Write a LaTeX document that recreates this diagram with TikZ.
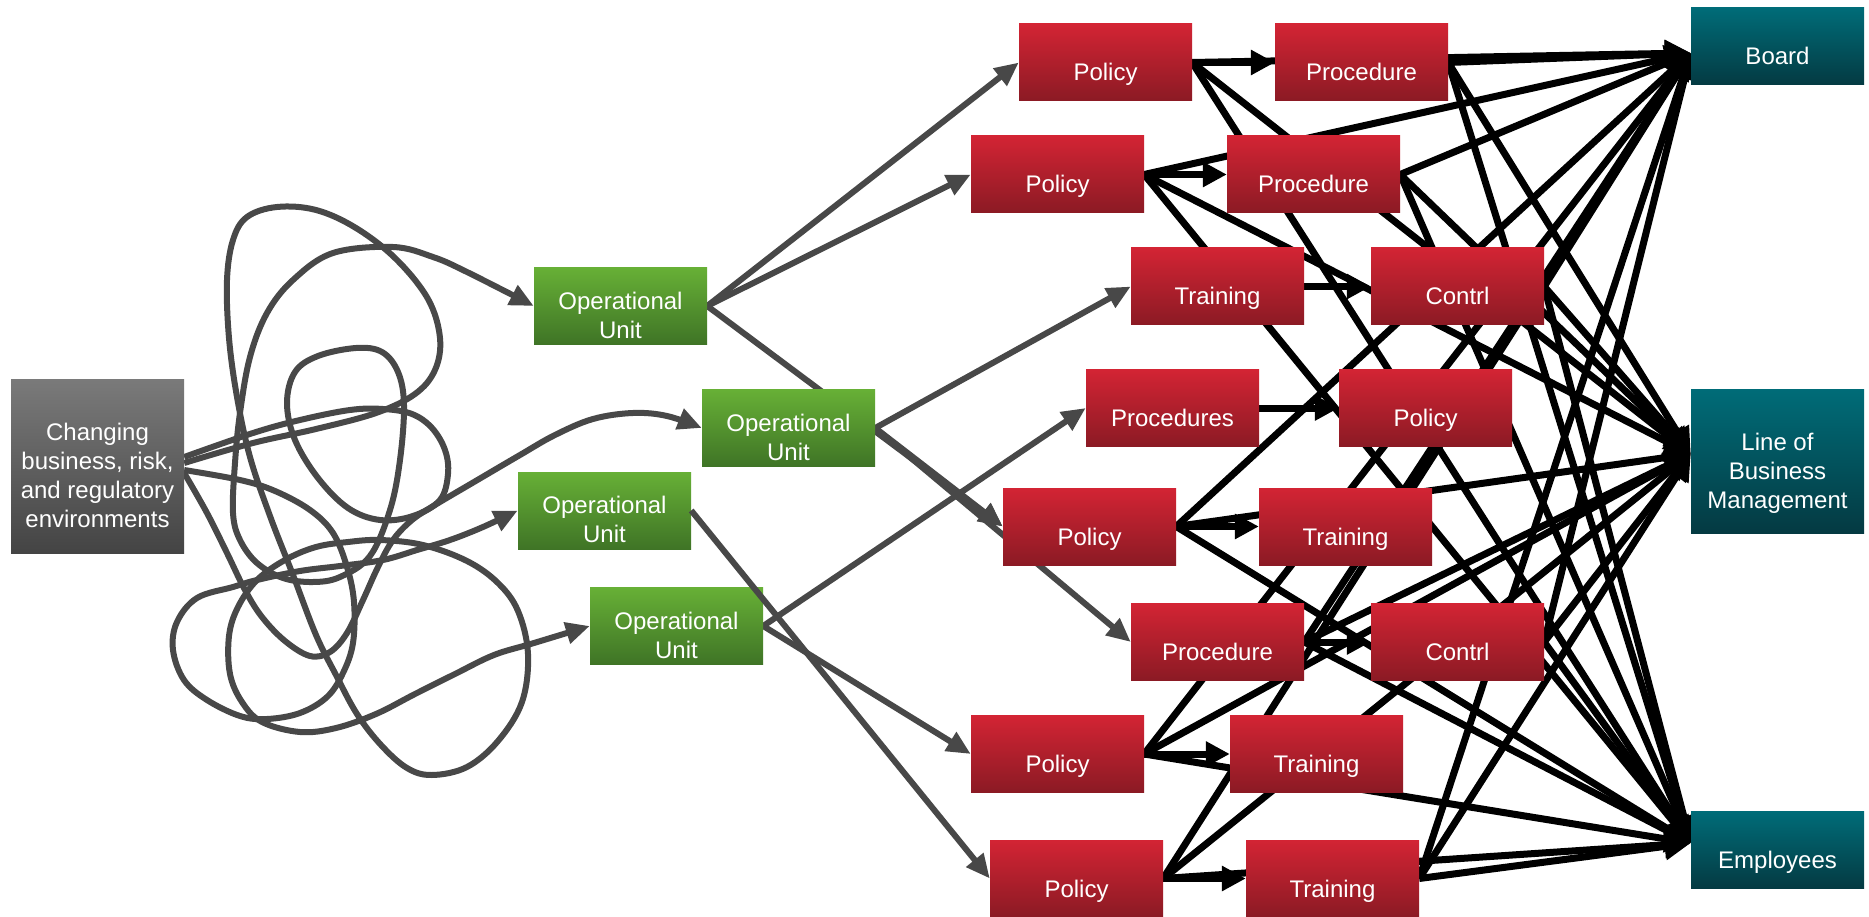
\documentclass[tikz,border=0pt]{standalone}
\usepackage{fontspec}
\setmainfont{Liberation Sans}
\usetikzlibrary{arrows.meta,calc}
\definecolor{redtop}{RGB}{211,36,52}
\definecolor{redbot}{RGB}{139,26,36}
\definecolor{grntop}{RGB}{103,176,54}
\definecolor{grnbot}{RGB}{63,116,38}
\definecolor{tealtop}{RGB}{0,108,120}
\definecolor{tealbot}{RGB}{4,58,66}
\definecolor{gratop}{RGB}{122,122,122}
\definecolor{grabot}{RGB}{68,68,68}
\definecolor{wire}{RGB}{72,72,72}
\pgfdeclarelayer{background}
\pgfsetlayers{background,main}
\begin{document}
\begin{tikzpicture}[x=1pt,y=-1pt,
  box/.style={rectangle,inner sep=0pt,minimum width=173pt,minimum height=77pt},
  redbox/.style={box,top color=redtop,bottom color=redbot},
  grnbox/.style={box,top color=grntop,bottom color=grnbot},
  tealbox/.style={box,top color=tealtop,bottom color=tealbot},
  grybox/.style={box,top color=gratop,bottom color=grabot},
  lbl/.style={text=white,font=\fontsize{24}{29}\selectfont,align=center,inner sep=0pt},
  word/.style={lbl,anchor=base},
  feed/.style={draw=wire,line width=6pt,-{Triangle[length=24pt,width=21pt]}},
  link/.style={draw=black,line width=7pt,-{Triangle[length=24pt,width=24pt]}},
  tie/.style={draw=black,line width=7pt,-{Triangle[length=26pt,width=26pt]}},
]
\useasboundingbox (0,0) rectangle (1869,917);

% source
\node[grybox,minimum height=174pt] (chg) at (97.5,466) {};
\node[lbl] (chg-t) at ([yshift=-9pt]chg.center) {Changing\\business, risk,\\and regulatory\\environments};

% operational units
\node[grnbox] (ou1) at (620.5,306) {};
\node[grnbox] (ou2) at (788.5,428) {};
\node[grnbox] (ou3) at (604.5,510.5) {};
\node[grnbox] (ou4) at (676.5,626) {};
\foreach \u in {ou1,ou2,ou3,ou4}
  \node[lbl] (\u-t) at ([yshift=-9pt]\u.center) {Operational\\Unit};

% policies, procedures, training and controls
\node[redbox] (pol1) at (1105.5,62.5) {};
\node[redbox] (pro1) at (1361.5,62.5) {};
\node[redbox] (pol2) at (1057.5,174.5) {};
\node[redbox] (pro2) at (1313.5,174.5) {};
\node[redbox] (trn1) at (1217.5,286.5) {};
\node[redbox] (ctl1) at (1457.5,286.5) {};
\node[redbox] (pros) at (1172.5,408) {};
\node[redbox] (pol3) at (1425.5,408) {};
\node[redbox] (pol4) at (1089.5,526.5) {};
\node[redbox] (trn2) at (1345.5,526.5) {};
\node[redbox] (pro3) at (1217.5,642) {};
\node[redbox] (ctl2) at (1457.5,642) {};
\node[redbox] (pol5) at (1057.5,754) {};
\node[redbox] (trn3) at (1316.5,754) {};
\node[redbox] (pol6) at (1076.5,878.5) {};
\node[redbox] (trn4) at (1332.5,878.5) {};

% audiences
\node[tealbox] (board) at (1777.5,46.5) {};
\node[tealbox,minimum height=144pt] (lob) at (1777.5,461) {};
\node[tealbox] (emp) at (1777.5,850) {};
\coordinate (board-in) at ([yshift=-6.5pt]board.west);
\coordinate (lob-in) at ([yshift=7pt]lob.west);
\coordinate (emp-in) at ([yshift=7pt]emp.west);

% single-line labels, set on a common baseline below the box centre
\foreach \n/\w in {pol1/Policy,pro1/Procedure,pol2/Policy,pro2/Procedure,
  trn1/Training,ctl1/Contrl,pros/Procedures,pol3/Policy,pol4/Policy,
  trn2/Training,pro3/Procedure,ctl2/Contrl,pol5/Policy,trn3/Training,
  pol6/Policy,trn4/Training,board/Board,emp/Employees}
  \node[word] (\n-t) at ([yshift=-18.5pt]\n.center) {\w};
\node[lbl] (lob-t) at ([yshift=-12.5pt]lob.center) {Line of\\Business\\Management};

\begin{pgfonlayer}{background}
  \fill[white] (0,0) rectangle (1869,917);

  % tangled paths from the changing environment
  \draw[feed] plot[smooth,tension=0.6] coordinates {([yshift=9pt]chg.east) (253,433) (300,420) (350,410) (383,409) (412,414) (432,428) (445,450) (448,474) (440,500) (413,516) (380,520) (348,508) (318,478) (295,440) (287,403) (295,372) (318,356) (356,348) (382,352) (398,372) (404,405) (400,460) (390,510) (370,556) (340,577) (313,582) (283,578) (257,563) (240,540) (233,513) (235,463) (240,413) (250,357) (267,313) (293,280) (333,253) (393,247) (433,257) (467,272) (ou1.west)};
  \draw[feed] plot[smooth,tension=0.6] coordinates {([yshift=-7pt]chg.east) (207,513) (227,553) (245,590) (262,617) (285,641) (310,656) (330,652) (347,633) (363,600) (378,567) (393,540) (412,520) (435,505) (474,482) (520,455) (555,435) (593,419) (633,413) (667,416) (ou2.west)};
  \draw[feed] plot[smooth,tension=0.6] coordinates {([yshift=-4pt]chg.east) (240,480) (275,491) (310,510) (333,533) (347,567) (354,602) (353,643) (343,673) (327,697) (300,713) (267,719) (240,716) (207,700) (184,680) (173,650) (177,622) (197,598) (233,587) (257,580) (300,571) (340,566) (383,560) (417,550) (450,540) (483,527) (ou3.west)};
  \draw[feed] plot[smooth,tension=0.6] coordinates {([yshift=3pt]chg.east) (253,443) (316,429) (376,413) (415,394) (435,370) (440,338) (428,299) (396,259) (356,228) (316,210) (277,207) (247,217) (233,240) (227,280) (229,338) (237,397) (250,457) (270,516) (293,575) (316,635) (336,675) (357,714) (381,745) (407,768) (432,775) (467,767) (498,741) (522,702) (528,654) (518,611) (498,583) (467,561) (423,545) (380,540) (348,542) (316,547) (285,560) (257,580) (238,607) (229,636) (230,674) (242,702) (262,722) (300,732) (336,728) (376,714) (415,694) (455,674) (494,655) (534,643) (ou4.west)};

  % units to their documents
  \draw[feed] (ou1.east) -- (pol1.west);
  \draw[feed] (ou1.east) -- (pol2.west);
  \draw[feed] (ou1.east) -- (pol4.west);
  \draw[feed] (ou2.east) -- (trn1.west);
  \draw[feed] (ou2.east) -- (pol4.west);
  \draw[feed] (ou2.east) -- (pro3.west);
  \draw[feed] (ou4.east) -- (pros.west);
  \draw[feed] (ou4.east) -- (pol5.west);

  % document chains
  \foreach \a/\b in {pol1/pro1,pol2/pro2,trn1/ctl1,pros/pol3,pol4/trn2,pro3/ctl2,pol5/trn3,pol6/trn4}
    \draw[link] (\a.east) -- (\b.west);

  % documents reaching the audiences
  \foreach \s in {pol1,pro1,pol2,pro2,ctl1,pol4,pro3,ctl2,pol5,pol6,trn4}
    \foreach \t in {board-in,lob-in,emp-in}
      \draw[tie] (\s.east) -- (\t);
\end{pgfonlayer}

% this one crosses over the corner of the unit below it
\draw[feed] (ou3.east) -- (pol6.west);
\end{tikzpicture}
\end{document}
